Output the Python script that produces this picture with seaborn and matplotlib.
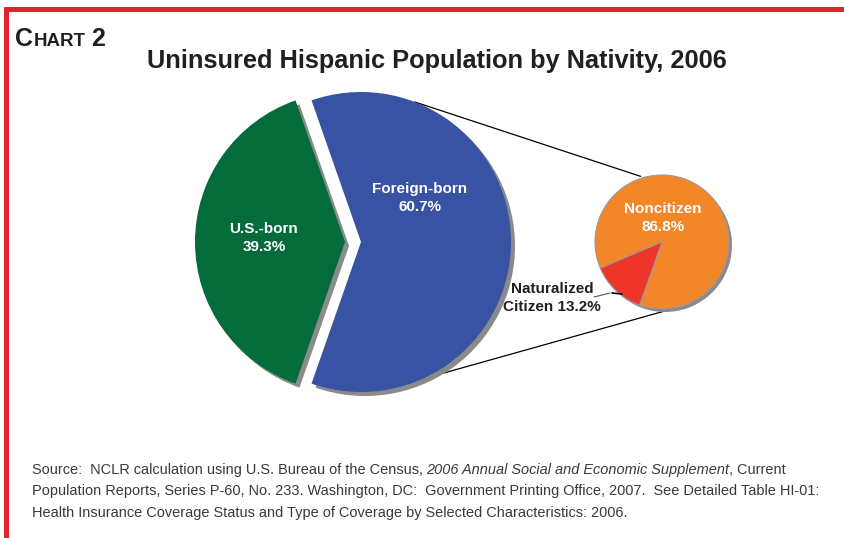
import matplotlib
matplotlib.use("Agg")
import matplotlib.pyplot as plt
import numpy as np
import seaborn as sns
from matplotlib.patches import Rectangle

# Data
NATIVITY = ["U.S.-born", "Foreign-born"]
NATIVITY_PCT = [39.3, 60.7]
CITIZENSHIP = ["Noncitizen", "Naturalized\nCitizen"]
CITIZENSHIP_PCT = [86.8, 13.2]

TITLE = "Uninsured Hispanic Population by Nativity, 2006"
SOURCE_1 = "Source:  NCLR calculation using U.S. Bureau of the Census,"
SOURCE_1_IT = "2006 Annual Social and Economic Supplement"
SOURCE_1_END = ", Current"
SOURCE_2 = ("Population Reports, Series P-60, No. 233. Washington, DC:  Government "
            "Printing Office, 2007.  See Detailed Table HI-01:")
SOURCE_3 = "Health Insurance Coverage Status and Type of Coverage by Selected Characteristics: 2006."

W, H = 844, 538
FONT = ["Liberation Sans", "DejaVu Sans"]
BIG_COLORS = ["#046b3a", "#3853a4"]
SMALL_COLORS = ["#f4862a", "#ed3627"]
SHADOW = "#8a8a8a"
BORDER = "#e2232a"
TXT = "#231f20"

sns.set_theme(style="white")
plt.rcParams["font.family"] = FONT

fig = plt.figure(figsize=(W / 100, H / 100), dpi=100)
ax = fig.add_axes([0, 0, 1, 1])
renderer = fig.canvas.get_renderer()


def py(y):
    """pixel row (top-down) -> data y"""
    return H - y


def width(t):
    return t.get_window_extent(renderer).width


def fit(t, target):
    # the narrow face of the original is not available: shrink to its width
    t.set_fontsize(t.get_fontsize() * target / width(t))
    return t


# big pie
big_c = np.array([361.0, py(242)])
big_r = 150
big_start = 180 - NATIVITY_PCT[0] * 3.6 / 2
explode = [16, 0]
ax.pie(NATIVITY_PCT, radius=big_r, center=big_c + [4, -4], startangle=big_start,
       explode=explode, colors=[SHADOW] * 2,
       wedgeprops=dict(linewidth=0, zorder=0.5), frame=True)
ax.pie(NATIVITY_PCT, radius=big_r, center=big_c, startangle=big_start,
       explode=explode, colors=BIG_COLORS,
       wedgeprops=dict(linewidth=0, zorder=1), frame=True)

# small pie
small_c = np.array([662.0, py(242)])
small_r = 67
small_start = -109.5
ax.pie(CITIZENSHIP_PCT, radius=small_r, center=small_c + [3, -3], startangle=small_start,
       colors=[SHADOW] * 2, wedgeprops=dict(linewidth=0, zorder=0.5), frame=True)
ax.pie(CITIZENSHIP_PCT, radius=small_r, center=small_c, startangle=small_start,
       colors=SMALL_COLORS, wedgeprops=dict(linewidth=0.8, edgecolor="#9a9a9a", zorder=1),
       frame=True)


# connector lines
def on_circle(c, r, deg):
    a = np.deg2rad(deg)
    return c + r * np.array([np.cos(a), np.sin(a)])


for (a_big, r_big), a_small in [((69, big_r), 108), ((-62, big_r + 2), -87.5)]:
    p1 = on_circle(big_c, r_big, a_big)
    p2 = on_circle(small_c, small_r + 2, a_small)
    ax.plot([p1[0], p2[0]], [p1[1], p2[1]], color="black", lw=0.9, zorder=0.3)

# leader for naturalized citizen
ax.plot([594, 610], [py(297), py(293)], color="#555555", lw=0.8, zorder=2)
ax.plot([612, 622], [py(293), py(294)], color="black", lw=1.2, zorder=2)

# slice labels
lab = dict(ha="center", va="center", fontsize=11, fontweight="bold",
           linespacing=1.4, zorder=3)
ax.text(264, py(238), f"{NATIVITY[0]}\n{NATIVITY_PCT[0]}%", color="white", **lab)
ax.text(420, py(198), f"{NATIVITY[1]}\n{NATIVITY_PCT[1]}%", color="white", **lab)
ax.text(663, py(218), f"{CITIZENSHIP[0]}\n{CITIZENSHIP_PCT[0]}%", color="white", **lab)
ax.text(552, py(298), f"{CITIZENSHIP[1]} {CITIZENSHIP_PCT[1]}%", color=TXT, **lab)

# red frame
ax.add_patch(Rectangle((4, py(12)), W - 4, 5, color=BORDER, lw=0, zorder=5))
ax.add_patch(Rectangle((4, 0), 5, py(7), color=BORDER, lw=0, zorder=5))

ax.set_xlim(0, W)
ax.set_ylim(0, H)
ax.set_aspect("equal")
ax.axis("off")


def runs(x, y, parts, **kw):
    for text, gap, props in parts:
        t = ax.text(x, y, text, va="baseline", ha="left", **kw, **props)
        x += width(t) + gap
    return x


# chart number in small caps
runs(15, py(46), [("C", 1, dict(fontsize=18)),
                  ("HART", 5, dict(fontsize=13.5)),
                  ("2", 0, dict(fontsize=18))],
     color=TXT, fontweight="bold")

fit(ax.text(437, py(68), TITLE, ha="center", va="baseline", fontsize=20,
            fontweight="bold", color=TXT), 580)

# source note, size taken from the widest line
src = dict(fontsize=fit(ax.text(32, py(495), SOURCE_2, va="baseline", fontsize=11,
                                color="#3a3a3a"), 783).get_fontsize(),
           color="#3a3a3a")
runs(32, py(474), [(SOURCE_1, 3, {}),
                   (SOURCE_1_IT, 0, dict(fontstyle="italic")),
                   (SOURCE_1_END, 0, {})], **src)
ax.text(32, py(517), SOURCE_3, va="baseline", **src)

fig.savefig("out.png", dpi=100)
